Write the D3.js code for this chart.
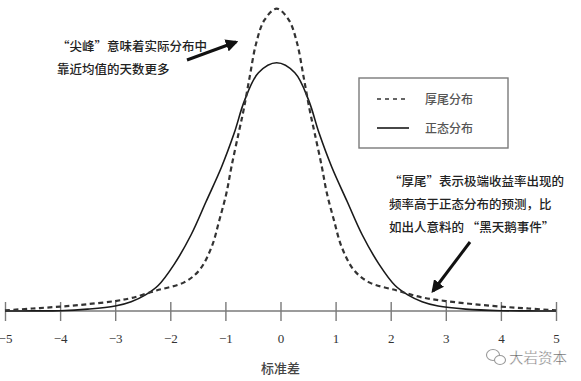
<!DOCTYPE html>
<html>
<head>
<meta charset="utf-8">
<script src="https://cdn.jsdelivr.net/npm/d3@7"></script>
<style>
  html, body { margin: 0; padding: 0; background: #fff; }
  svg { display: block; }
</style>
</head>
<body>
<svg id="chart" width="581" height="381"></svg>
<script>
// ---- data ----
const tickValues = [-5, -4, -3, -2, -1, 0, 1, 2, 3, 4, 5];
const axisTitle = "标准差";

// fat-tailed (dashed) curve: x in standard deviations, y density
const fatX = [-5, -4.5, -4, -3.5, -3, -2.7, -2.25, -1.75, -1.47, -1.25, -1.11, -0.98, -0.89, -0.76, -0.67, -0.56, -0.44, -0.29, -0.07,
              0.15, 0.30, 0.42, 0.53, 0.62, 0.75, 0.84, 0.97, 1.11, 1.33, 1.61, 2.11, 2.56, 3, 3.5, 4, 4.5, 5];
const fatY = [0.001, 0.004, 0.007, 0.011, 0.016, 0.021, 0.033, 0.046, 0.066, 0.103, 0.146, 0.190, 0.232, 0.286, 0.323, 0.376, 0.431, 0.468, 0.486,
              0.468, 0.431, 0.376, 0.323, 0.286, 0.232, 0.190, 0.146, 0.103, 0.066, 0.046, 0.033, 0.022, 0.016, 0.011, 0.007, 0.004, 0.001];

// normal (solid) curve
const normX = [-5, -4.5, -4, -3.5, -3, -2.71, -2.45, -2.22, -1.93, -1.62, -1.35, -1.07, -0.84, -0.65, -0.4, -0.07,
               0.26, 0.51, 0.70, 0.93, 1.21, 1.48, 1.79, 2.08, 2.31, 2.57, 2.86, 3.36, 4, 4.5, 5];
const normY = [0, 0.0002, 0.0005, 0.003, 0.008, 0.015, 0.026, 0.041, 0.075, 0.123, 0.176, 0.2315, 0.286, 0.339, 0.383, 0.399,
               0.383, 0.339, 0.286, 0.2315, 0.176, 0.123, 0.075, 0.041, 0.026, 0.015, 0.008, 0.003, 0.0005, 0.0002, 0];

const legendLabels = ["厚尾分布", "正态分布"];
const noteTopLines = ["“尖峰”意味着实际分布中", "靠近均值的天数更多"];
const noteRightLines = ["“厚尾”表示极端收益率出现的", "频率高于正态分布的预测，比", "如出人意料的 “黑天鹅事件”"];
const watermark = "大岩资本";

// ---- drawing ----
const svg = d3.select("#chart");
const x = d3.scaleLinear().domain([-5, 5]).range([5, 556]);
const y = d3.scaleLinear().domain([0, 0.5]).range([311, 0]);

const serif = "'Liberation Serif', 'DejaVu Serif', serif";
const cjk = "'Noto Sans CJK SC', 'Noto Sans', sans-serif";

// axis baseline
svg.append("line")
  .attr("x1", x(-5)).attr("x2", x(5))
  .attr("y1", y(0)).attr("y2", y(0))
  .attr("stroke", "#7a7a7a").attr("stroke-width", 1.6);

// ticks crossing the baseline
const axis = d3.axisBottom(x).tickValues(tickValues).tickSizeInner(19).tickSizeOuter(0).tickPadding(13)
  .tickFormat(d3.format("d"));
const gAxis = svg.append("g").attr("transform", `translate(0,${y(0) - 9})`).call(axis);
gAxis.select(".domain").remove();
gAxis.selectAll(".tick line").attr("stroke", "#7a7a7a").attr("stroke-width", 1.4);
gAxis.selectAll(".tick text").attr("font-family", serif).attr("font-size", 13).attr("fill", "#333");

svg.append("text")
  .attr("x", x(0)).attr("y", 373)
  .attr("text-anchor", "middle")
  .attr("font-family", cjk).attr("font-size", 13).attr("font-weight", 500).attr("fill", "#444")
  .text(axisTitle);

const line = d3.line().x(d => x(d[0])).y(d => y(d[1])).curve(d3.curveCatmullRom.alpha(0.5));

svg.append("path")
  .datum(normX.map((v, i) => [v, normY[i]]))
  .attr("d", line).attr("fill", "none")
  .attr("stroke", "#1a1a1a").attr("stroke-width", 1.6);

svg.append("path")
  .datum(fatX.map((v, i) => [v, fatY[i]]))
  .attr("d", line).attr("fill", "none")
  .attr("stroke", "#333").attr("stroke-width", 2.2)
  .attr("stroke-dasharray", "5,3.5");

// legend
svg.append("rect")
  .attr("x", 359).attr("y", 78).attr("width", 149).attr("height", 70)
  .attr("fill", "#fff").attr("stroke", "#7a7a7a").attr("stroke-width", 1.4);
const legY = [99, 128];
legendLabels.forEach((lab, i) => {
  svg.append("line")
    .attr("x1", 377).attr("x2", 409).attr("y1", legY[i]).attr("y2", legY[i])
    .attr("stroke", "#333").attr("stroke-width", i === 0 ? 1.6 : 1.8)
    .attr("stroke-dasharray", i === 0 ? "4,4" : null);
  svg.append("text")
    .attr("x", 425).attr("y", legY[i] + 4.5)
    .attr("font-family", cjk).attr("font-size", 12).attr("font-weight", 500).attr("fill", "#555")
    .text(lab);
});

// arrows
const defs = svg.append("defs");
defs.append("marker").attr("id", "ah")
  .attr("viewBox", "0 0 10 10").attr("refX", 8).attr("refY", 5)
  .attr("markerWidth", 4.2).attr("markerHeight", 4.2).attr("orient", "auto")
  .append("path").attr("d", "M0,0 L10,5 L0,10 Z").attr("fill", "#111");

svg.append("line")
  .attr("x1", 187).attr("y1", 60).attr("x2", 236).attr("y2", 42)
  .attr("stroke", "#111").attr("stroke-width", 3).attr("marker-end", "url(#ah)");
svg.append("line")
  .attr("x1", 470).attr("y1", 242).attr("x2", 433).attr("y2", 291)
  .attr("stroke", "#111").attr("stroke-width", 3).attr("marker-end", "url(#ah)");

// annotations
noteTopLines.forEach((t, i) => {
  svg.append("text")
    .attr("x", 57).attr("y", 51 + i * 23)
    .attr("font-family", cjk).attr("font-size", 12.5).attr("font-weight", 500).attr("fill", "#222")
    .text(t);
});
noteRightLines.forEach((t, i) => {
  svg.append("text")
    .attr("x", 389).attr("y", 186 + i * 23)
    .attr("font-family", cjk).attr("font-size", 12.5).attr("font-weight", 500).attr("fill", "#222")
    .text(t);
});

// watermark
const wm = svg.append("g").attr("transform", "translate(496,357)");
wm.append("ellipse").attr("cx", -3).attr("cy", -2).attr("rx", 6.5).attr("ry", 5.5)
  .attr("fill", "#fff").attr("stroke", "#999").attr("stroke-width", 1.1);
wm.append("ellipse").attr("cx", 4).attr("cy", 3).attr("rx", 5.5).attr("ry", 4.5)
  .attr("fill", "#fff").attr("stroke", "#999").attr("stroke-width", 1.1);
svg.append("text")
  .attr("x", 509).attr("y", 363)
  .attr("font-family", cjk).attr("font-size", 14.5).attr("fill", "#666")
  .attr("stroke", "#fff").attr("stroke-width", 0.4)
  .text(watermark);
</script>
</body>
</html>
